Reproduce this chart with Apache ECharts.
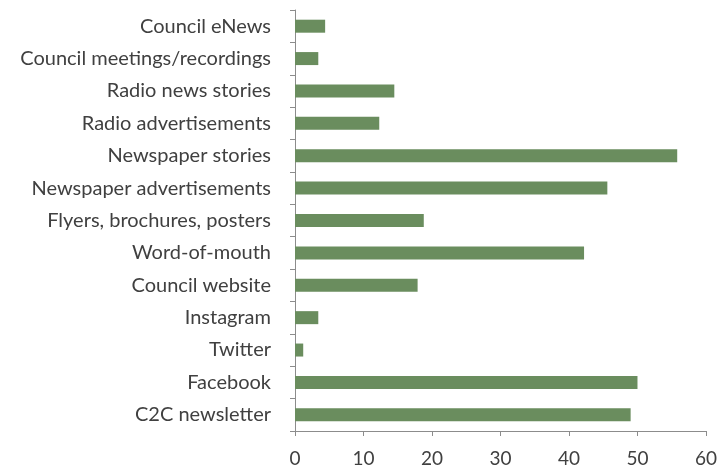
<!DOCTYPE html>
<html>
<head>
<meta charset="utf-8">
<script src="https://cdn.jsdelivr.net/npm/echarts@6/dist/echarts.min.js"></script>
<style>
  html, body { margin: 0; padding: 0; background: #fff; }
  #chart { width: 720px; height: 472px; }
</style>
</head>
<body>
<div id="chart"></div>
<script>
// Information sources, listed top to bottom
const categories = [
  'Council eNews',
  'Council meetings/recordings',
  'Radio news stories',
  'Radio advertisements',
  'Newspaper stories',
  'Newspaper advertisements',
  'Flyers, brochures, posters',
  'Word-of-mouth',
  'Council website',
  'Instagram',
  'Twitter',
  'Facebook',
  'C2C newsletter'
];
const values = [4.4, 3.4, 14.5, 12.3, 55.8, 45.6, 18.8, 42.2, 17.9, 3.4, 1.2, 50.0, 49.0];
const xTicks = [0, 10, 20, 30, 40, 50, 60];

const chart = echarts.init(document.getElementById('chart'));
const axisColor = '#8c8c8c';
const textColor = '#404040';
const fontFamily = 'Lato, "Open Sans", sans-serif';

chart.setOption({
  animation: false,
  grid: { left: 295, right: 12, top: 10, bottom: 41, containLabel: false },
  xAxis: {
    type: 'value',
    min: xTicks[0],
    max: xTicks[xTicks.length - 1],
    interval: 10,
    splitLine: { show: false },
    axisLine: { show: true, lineStyle: { color: axisColor, width: 1 } },
    axisTick: { show: true, length: 5, lineStyle: { color: axisColor } },
    axisLabel: { color: textColor, fontSize: 19, fontFamily, margin: 18 }
  },
  yAxis: {
    type: 'category',
    data: categories,
    inverse: true,
    axisLine: { show: true, lineStyle: { color: axisColor, width: 1 } },
    axisTick: { show: true, length: 5, lineStyle: { color: axisColor } },
    axisLabel: { color: textColor, fontSize: 20, fontFamily, margin: 24 }
  },
  series: [{
    type: 'bar',
    data: values,
    barWidth: 13,
    itemStyle: { color: '#6a8d5e' }
  }]
});
</script>
</body>
</html>
